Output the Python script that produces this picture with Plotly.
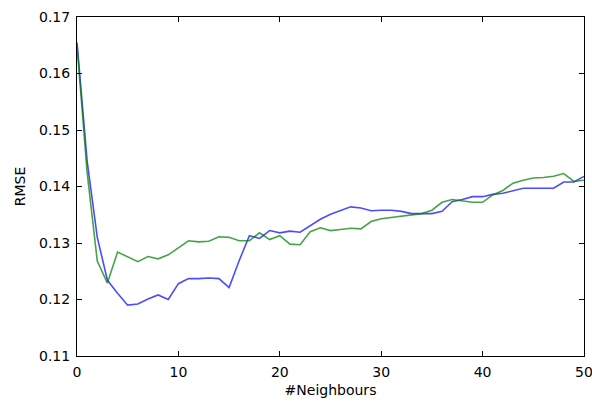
import plotly.graph_objects as go

# Number of neighbours used by the predictor
neighbours = list(range(0, 51))

# RMSE for the two configurations
rmse_blue = [
    0.1655, 0.1445, 0.1310, 0.1234, 0.1211, 0.1190, 0.1192, 0.1201, 0.1208, 0.1200,
    0.1228, 0.1237, 0.1237, 0.1238, 0.1237, 0.1221, 0.1269, 0.1313, 0.1308, 0.1322,
    0.1318, 0.1321, 0.1319, 0.1330, 0.1342, 0.1351, 0.1357, 0.1364, 0.1362, 0.1357,
    0.1358, 0.1358, 0.1356, 0.1352, 0.1352, 0.1352, 0.1356, 0.1373, 0.1377, 0.1382,
    0.1382, 0.1386, 0.1388, 0.1393, 0.1397, 0.1397, 0.1397, 0.1397, 0.1408, 0.1408,
    0.1418,
]
rmse_green = [
    0.1650, 0.1425, 0.1268, 0.1229, 0.1284, 0.1276, 0.1267, 0.1276, 0.1272, 0.1279,
    0.1292, 0.1304, 0.1302, 0.1303, 0.1311, 0.1310, 0.1304, 0.1304, 0.1318, 0.1306,
    0.1313, 0.1298, 0.1297, 0.1320, 0.1327, 0.1322, 0.1324, 0.1326, 0.1325, 0.1338,
    0.1343, 0.1345, 0.1348, 0.1350, 0.1352, 0.1358, 0.1372, 0.1377, 0.1374, 0.1372,
    0.1372, 0.1385, 0.1393, 0.1406, 0.1411, 0.1415, 0.1416, 0.1418, 0.1423, 0.1409,
    0.1411,
]

x_ticks = [0, 10, 20, 30, 40, 50]
y_ticks = [0.11, 0.12, 0.13, 0.14, 0.15, 0.16, 0.17]

FONT = dict(family="DejaVu Sans", size=14, color="black")

fig = go.Figure()
fig.add_trace(go.Scatter(
    x=neighbours, y=rmse_blue, mode="lines",
    line=dict(color="rgba(0,0,255,0.7)", width=1.6),
    showlegend=False,
))
fig.add_trace(go.Scatter(
    x=neighbours, y=rmse_green, mode="lines",
    line=dict(color="rgba(0,128,0,0.72)", width=1.6),
    showlegend=False,
))

axis_common = dict(
    showgrid=False, zeroline=False,
    showline=True, linecolor="black", linewidth=1,
    mirror="ticks", ticks="inside", ticklen=5, tickwidth=1, tickcolor="black",
    tickfont=FONT, ticklabeloverflow="allow", automargin=False,
)

fig.update_xaxes(
    range=[0, 50], tickvals=x_ticks, ticktext=[str(v) for v in x_ticks],
    title=dict(text="#Neighbours", font=FONT, standoff=6),
    ticklabelstandoff=3,
    **axis_common,
)
fig.update_yaxes(
    range=[0.11, 0.17], tickvals=y_ticks, ticktext=[f"{v:.2f}" for v in y_ticks],
    title=dict(text="RMSE", font=FONT, standoff=10),
    ticklabelstandoff=3,
    **axis_common,
)

fig.update_layout(
    width=592, height=403,
    margin=dict(l=77, r=8, t=17, b=47),
    paper_bgcolor="white", plot_bgcolor="white",
)

fig.write_html("out.html")
